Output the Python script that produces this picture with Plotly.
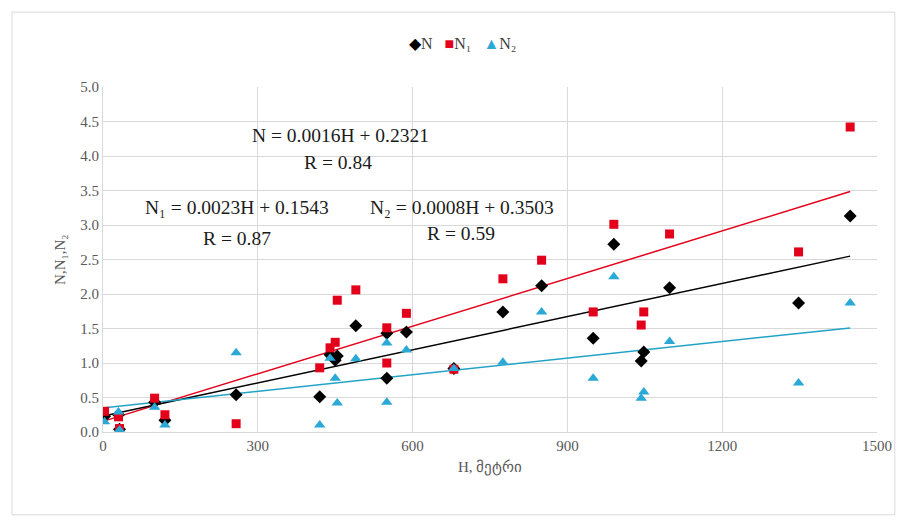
import plotly.graph_objects as go

H = [3, 30, 32, 100, 120, 258, 420, 440, 450, 454, 490, 550, 550, 588, 680,
     775, 850, 950, 990, 1043, 1048, 1098, 1348, 1448]
N = [0.23, 0.25, 0.04, 0.43, 0.17, 0.54, 0.51, 1.12, 1.04, 1.10, 1.54, 1.43, 0.78,
     1.45, 0.92, 1.74, 2.12, 1.36, 2.72, 1.03, 1.16, 2.09, 1.87, 3.13]
N1 = [0.30, 0.22, 0.05, 0.49, 0.25, 0.12, 0.93, 1.22, 1.30, 1.91, 2.06, 1.51, 1.00,
      1.72, 0.91, 2.22, 2.49, 1.74, 3.01, 1.55, 1.74, 2.87, 2.61, 4.42]
N2 = [0.15, 0.29, 0.03, 0.36, 0.10, 1.15, 0.10, 1.07, 0.78, 0.42, 1.06, 1.29, 0.43,
      1.19, 0.92, 1.01, 1.74, 0.78, 2.25, 0.49, 0.58, 1.31, 0.71, 1.87]

# trendline coefficients (slope, intercept) as printed on the chart
fit_N = (0.0016, 0.2321)
fit_N1 = (0.0023, 0.1543)
fit_N2 = (0.0008, 0.3503)

C_N = "#000000"
C_N1 = "#E3001B"
C_N2 = "#2AA9D6"
C_N2_LINE = "#22A3C6"

FONT = "Liberation Serif"

fig = go.Figure()

xr = [min(H), max(H)]
for (a, b), col in [(fit_N1, C_N1), (fit_N, C_N), (fit_N2, C_N2_LINE)]:
    fig.add_trace(go.Scatter(x=xr, y=[a * x + b for x in xr], mode="lines",
                             line=dict(color=col, width=1.5), showlegend=False,
                             hoverinfo="skip"))

fig.add_trace(go.Scatter(x=H, y=N, mode="markers", name="N", showlegend=False,
                         marker=dict(symbol="diamond", size=10, color=C_N)))
fig.add_trace(go.Scatter(x=H, y=N1, mode="markers", name="N₁", showlegend=False,
                         marker=dict(symbol="square", size=9, color=C_N1)))
fig.add_trace(go.Scatter(x=H, y=N2, mode="markers", name="N₂", showlegend=False,
                         marker=dict(symbol="triangle-up", size=10, color=C_N2)))

# compact legend as in the reference
legend_text = (f"<span style='color:{C_N}'>◆</span>N   "
               f"<span style='color:{C_N1}'>■</span>N₁   "
               f"<span style='color:{C_N2}'>▲</span>N₂")
fig.add_annotation(x=0.465, y=1.125, xref="paper", yref="paper", text=legend_text,
                   showarrow=False, xanchor="center", yanchor="middle",
                   font=dict(family=FONT, size=16, color="#404040"))

ann = [
    ("N = 0.0016H + 0.2321", 461, 4.30),
    ("R = 0.84", 455, 3.91),
    ("N₁ = 0.0023H + 0.1543", 259, 3.26),
    ("R = 0.87", 259, 2.81),
    ("N₂ = 0.0008H + 0.3503", 695, 3.26),
    ("R = 0.59", 693, 2.88),
]
for t, x, y in ann:
    fig.add_annotation(x=x, y=y, text=t, showarrow=False, xref="x", yref="y",
                       font=dict(family=FONT, size=19.5, color="#1a1a1a"))

# axis titles
fig.add_annotation(x=0.5, y=-0.104, xref="paper", yref="paper", text="H, მეტრი",
                   showarrow=False, xanchor="center", yanchor="middle",
                   font=dict(family=FONT, size=15, color="#595959"))
fig.add_annotation(x=-0.0556, y=0.4986, xref="paper", yref="paper", text="N,N₁,N₂",
                   showarrow=False, xanchor="center", yanchor="middle", textangle=-90,
                   font=dict(family=FONT, size=15, color="#595959"))

fig.update_layout(
    width=899, height=519,
    margin=dict(l=95, r=30, t=79, b=95, autoexpand=False),
    paper_bgcolor="white", plot_bgcolor="white",
    font=dict(family=FONT, size=15, color="#595959"),
    showlegend=False,
    xaxis=dict(range=[0, 1500], dtick=300, tick0=0, showgrid=True,
               gridcolor="#D9D9D9", gridwidth=1, zeroline=False, automargin=False,
               showline=True, linecolor="#D9D9D9", ticks=""),
    yaxis=dict(range=[0, 5], dtick=0.5, tick0=0, tickformat=".1f", showgrid=True,
               gridcolor="#D9D9D9", gridwidth=1, zeroline=False, automargin=False,
               showline=True, linecolor="#D9D9D9", ticks=""),
)

fig.add_shape(type="rect", xref="paper", yref="paper",
              x0=-0.1176, x1=1.023, y0=-0.24, y1=1.217,
              line=dict(color="#D9D9D9", width=1), layer="below")

fig.write_html("out.html")
